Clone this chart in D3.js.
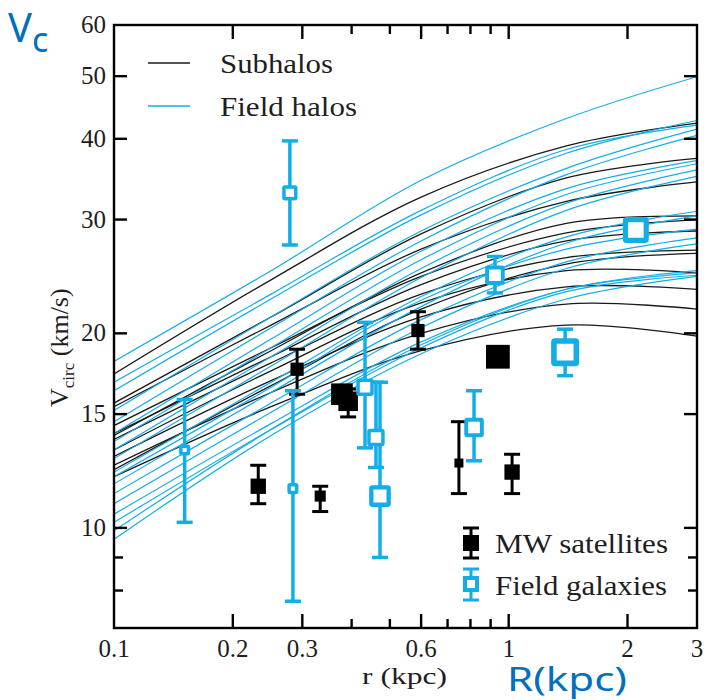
<!DOCTYPE html>
<html>
<head>
<meta charset="utf-8">
<script src="https://cdn.jsdelivr.net/npm/d3@7"></script>
<style>
  body { margin: 0; background: #fff; }
  svg { display: block; }
</style>
</head>
<body>
<svg id="chart" width="708" height="700"></svg>
<script>
const rSamples = [0.1, 0.25, 0.6, 1.4, 3];

// subhalo rotation curves, V_circ (km/s) at rSamples
const subhaloCurves = [
  [17.3, 24.2, 32.5, 39.0, 42.3],
  [15.6, 21.2, 28.5, 34.8, 37.3],
  [15.4, 20.6, 27.0, 32.0, 34.3],
  [14.4, 19.0, 24.5, 28.6, 30.0],
  [14.0, 18.4, 23.8, 27.8, 28.8],
  [13.7, 18.0, 23.0, 26.2, 26.9],
  [13.2, 17.5, 22.3, 25.0, 24.8],
  [12.9, 16.9, 21.2, 23.6, 23.4],
  [12.5, 16.2, 20.0, 22.2, 21.8],
  [12.0, 15.4, 18.8, 20.6, 19.8],
  [13.9, 18.8, 24.8, 29.6, 30.4],
  [12.3, 16.6, 21.8, 25.6, 26.6]
];

// field halo rotation curves, V_circ (km/s) at rSamples
const fieldHaloCurves = [
  [18.1, 25.0, 34.5, 43.0, 49.9],
  [16.3, 22.6, 30.5, 38.0, 42.7],
  [16.8, 23.0, 31.0, 38.5, 42.0],
  [15.2, 21.2, 28.8, 36.0, 41.4],
  [14.6, 20.4, 27.8, 35.2, 40.5],
  [14.0, 19.6, 26.8, 33.5, 37.0],
  [13.6, 19.0, 26.0, 32.8, 36.6],
  [13.2, 18.4, 25.2, 31.8, 35.8],
  [12.8, 17.8, 24.4, 31.0, 35.0],
  [12.2, 16.8, 22.8, 28.2, 30.9],
  [12.0, 16.5, 22.5, 27.0, 29.0],
  [11.7, 16.2, 22.0, 27.6, 30.4],
  [11.3, 15.6, 21.0, 25.8, 28.1],
  [10.9, 15.1, 20.4, 25.2, 27.5],
  [10.5, 14.5, 19.4, 23.4, 24.8],
  [10.2, 14.2, 19.0, 23.2, 24.6],
  [9.9, 14.2, 19.2, 23.4, 25.0],
  [9.6, 13.9, 18.6, 22.6, 24.5]
];

// MW satellites
const satR    = [0.232, 0.291, 0.333, 0.378, 0.392, 0.589, 0.748, 0.939, 1.02];
const satV    = [11.6, 17.6, 11.2, 16.1, 15.7, 20.2, 12.6, 18.4, 12.2];
const satLo   = [10.9, 16.1, 10.6, 16.1, 14.85, 18.9, 11.3, 18.4, 11.3];
const satHi   = [12.5, 18.9, 11.6, 16.1, 16.4, 21.6, 14.6, 18.4, 13.0];
const satMag  = [4, 3, 2, 7, 6, 3, 1, 8, 4];   // relative brightness, sets marker size

// field galaxies
const fieldR   = [0.151, 0.279, 0.284, 0.4325, 0.461, 0.472, 0.817, 0.923, 1.39, 2.10];
const fieldV   = [13.2, 33.0, 11.5, 16.5, 13.8, 11.2, 14.3, 24.6, 18.7, 28.9];
const fieldLo  = [10.2, 27.4, 7.7, 13.3, 12.4, 9.0, 12.7, 23.1, 17.2, 28.9];
const fieldHi  = [15.8, 39.7, 16.3, 20.8, 16.8, 16.8, 16.3, 26.3, 20.3, 28.9];
const fieldMag = [2, 4, 2, 5, 5, 7, 6, 6, 10, 9];

const xLabelTicks = [0.1, 0.2, 0.3, 0.6, 1, 2, 3];
const xMinorTicks = [0.4, 0.5, 0.7, 0.8, 0.9];
const yLabelTicks = [10, 15, 20, 30, 40, 50, 60];
const yMinorTicks = [8, 9];

const BLUE = '#13ade8';
const SERIF = '"Liberation Serif", "DejaVu Serif", serif';
const INK = '#1e1e1e';

const svg = d3.select('#chart');
const mLeft = 114, mRight = 697, mTop = 25, mBottom = 628;

const sx = d3.scaleLog().domain([0.1, 3]).range([mLeft, mRight]);
const sy = d3.scaleLog().domain([7, 60]).range([mBottom, mTop]);
const size = d3.scaleLinear().domain([1, 10]).range([9, 28]);

svg.append('defs').append('clipPath').attr('id', 'plotClip')
  .append('rect')
  .attr('x', mLeft).attr('y', mTop)
  .attr('width', mRight - mLeft).attr('height', mBottom - mTop);

const line = d3.line()
  .x((d) => sx(d[0]))
  .y((d) => sy(d[1]))
  .curve(d3.curveCatmullRom.alpha(0.5));

const curves = svg.append('g').attr('clip-path', 'url(#plotClip)');

curves.selectAll('.subhalo')
  .data(subhaloCurves)
  .enter()
  .append('path')
  .attr('class', 'subhalo')
  .attr('d', (vals) => line(vals.map((v, i) => [rSamples[i], v])))
  .attr('fill', 'none')
  .attr('stroke', '#1a1a1a')
  .attr('stroke-width', 1.3);

curves.selectAll('.fieldhalo')
  .data(fieldHaloCurves)
  .enter()
  .append('path')
  .attr('class', 'fieldhalo')
  .attr('d', (vals) => line(vals.map((v, i) => [rSamples[i], v])))
  .attr('fill', 'none')
  .attr('stroke', BLUE)
  .attr('stroke-width', 1.2);

// error bar helper
function errorBar(g, cx, yLo, yHi, color, width) {
  if (Math.abs(yLo - yHi) < 0.5) return;
  g.append('line')
    .attr('x1', cx).attr('x2', cx).attr('y1', yLo).attr('y2', yHi)
    .attr('stroke', color).attr('stroke-width', width);
  [yLo, yHi].forEach((yy) => {
    g.append('line')
      .attr('x1', cx - 8).attr('x2', cx + 8).attr('y1', yy).attr('y2', yy)
      .attr('stroke', color).attr('stroke-width', width);
  });
}

const points = svg.append('g');

satR.forEach((r, i) => {
  errorBar(points, sx(r), sy(satLo[i]), sy(satHi[i]), '#000', 3);
});
satR.forEach((r, i) => {
  const s = size(satMag[i]);
  points.append('rect')
    .attr('x', sx(r) - s / 2).attr('y', sy(satV[i]) - s / 2)
    .attr('width', s).attr('height', s)
    .attr('fill', '#000');
});

fieldR.forEach((r, i) => {
  errorBar(points, sx(r), sy(fieldLo[i]), sy(fieldHi[i]), BLUE, 3.5);
});
fieldR.forEach((r, i) => {
  const s = size(fieldMag[i]);
  const sw = Math.max(3.5, s * 0.2);
  points.append('rect')
    .attr('x', sx(r) - s / 2 + sw / 2).attr('y', sy(fieldV[i]) - s / 2 + sw / 2)
    .attr('width', s - sw).attr('height', s - sw)
    .attr('rx', 1)
    .attr('fill', '#fff')
    .attr('stroke', BLUE)
    .attr('stroke-width', sw);
});

// frame and inward ticks
const axes = svg.append('g').attr('stroke', '#000').attr('stroke-width', 2.4);
axes.append('rect')
  .attr('x', mLeft).attr('y', mTop)
  .attr('width', mRight - mLeft).attr('height', mBottom - mTop)
  .attr('fill', 'none');

function xTick(v, len) {
  axes.append('line').attr('x1', sx(v)).attr('x2', sx(v))
    .attr('y1', mBottom).attr('y2', mBottom - len);
  axes.append('line').attr('x1', sx(v)).attr('x2', sx(v))
    .attr('y1', mTop).attr('y2', mTop + len);
}
function yTick(v, len) {
  axes.append('line').attr('x1', mLeft).attr('x2', mLeft + len)
    .attr('y1', sy(v)).attr('y2', sy(v));
  axes.append('line').attr('x1', mRight).attr('x2', mRight - len)
    .attr('y1', sy(v)).attr('y2', sy(v));
}
xLabelTicks.slice(1, -1).forEach((v) => xTick(v, 14));
xMinorTicks.forEach((v) => xTick(v, 9));
yLabelTicks.slice(0, -1).forEach((v) => yTick(v, 13));
yMinorTicks.forEach((v) => yTick(v, 9));

svg.selectAll('.xTickLabel')
  .data(xLabelTicks)
  .enter()
  .append('text')
  .attr('class', 'xTickLabel')
  .attr('x', (d) => sx(d))
  .attr('y', 657)
  .attr('text-anchor', 'middle')
  .style('font-family', SERIF)
  .style('font-size', '25px')
  .attr('fill', INK)
  .text((d) => d);

svg.selectAll('.yTickLabel')
  .data(yLabelTicks)
  .enter()
  .append('text')
  .attr('class', 'yTickLabel')
  .attr('x', 106)
  .attr('y', (d) => sy(d) + 8)
  .attr('text-anchor', 'end')
  .style('font-family', SERIF)
  .style('font-size', '25px')
  .attr('fill', INK)
  .text((d) => d);

// axis titles
svg.append('text')
  .attr('x', 362).attr('y', 684)
  .style('font-family', SERIF)
  .style('font-size', '23px')
  .attr('textLength', 85)
  .attr('lengthAdjust', 'spacingAndGlyphs')
  .attr('fill', INK)
  .text('r (kpc)');

const yTitle = svg.append('text')
  .attr('transform', 'translate(68,407) rotate(-90)')
  .style('font-family', SERIF)
  .style('font-size', '26px')
  .attr('fill', INK);
yTitle.append('tspan').text('V');
yTitle.append('tspan').attr('dy', 6).style('font-size', '17px').text('circ');
yTitle.append('tspan').attr('dy', -6).text(' (km/s)');

// legend, top left
const legendTop = [
  {label: 'Subhalos', color: '#1a1a1a', y: 63, w: 113},
  {label: 'Field halos', color: BLUE, y: 106, w: 137}
];
legendTop.forEach((d) => {
  svg.append('line')
    .attr('x1', 148).attr('x2', 190).attr('y1', d.y).attr('y2', d.y)
    .attr('stroke', d.color).attr('stroke-width', 1.4);
  svg.append('text')
    .attr('x', 220).attr('y', d.y + 10)
    .style('font-family', SERIF)
    .style('font-size', '27px')
    .attr('textLength', d.w)
    .attr('lengthAdjust', 'spacingAndGlyphs')
    .attr('fill', INK)
    .text(d.label);
});

// legend, bottom right
const lg = svg.append('g');
errorBar(lg, 471, 558, 528, '#000', 3);
lg.append('rect').attr('x', 463).attr('y', 535).attr('width', 16).attr('height', 16)
  .attr('fill', '#000');
errorBar(lg, 471, 600, 569, BLUE, 3);
lg.append('rect').attr('x', 465).attr('y', 578).attr('width', 12).attr('height', 12)
  .attr('fill', '#fff').attr('stroke', BLUE).attr('stroke-width', 4);
lg.append('text').attr('x', 495).attr('y', 553)
  .style('font-family', SERIF).style('font-size', '27px').attr('fill', INK)
  .attr('textLength', 173).attr('lengthAdjust', 'spacingAndGlyphs')
  .text('MW satellites');
lg.append('text').attr('x', 495).attr('y', 595)
  .style('font-family', SERIF).style('font-size', '27px').attr('fill', INK)
  .attr('textLength', 172).attr('lengthAdjust', 'spacingAndGlyphs')
  .text('Field galaxies');

// blue slide annotations
const note = svg.append('g')
  .style('font-family', '"Noto Sans", "Open Sans", sans-serif')
  .attr('fill', '#0070c0');
const vc = note.append('text').attr('x', 8).attr('y', 42).style('font-size', '40px');
vc.append('tspan').text('V');
vc.append('tspan').attr('dy', 10).style('font-size', '34px').text('c');
note.append('text')
  .attr('x', 507).attr('y', 691)
  .style('font-size', '33px')
  .attr('textLength', 120)
  .attr('lengthAdjust', 'spacingAndGlyphs')
  .text('R(kpc)');
</script>
</body>
</html>
